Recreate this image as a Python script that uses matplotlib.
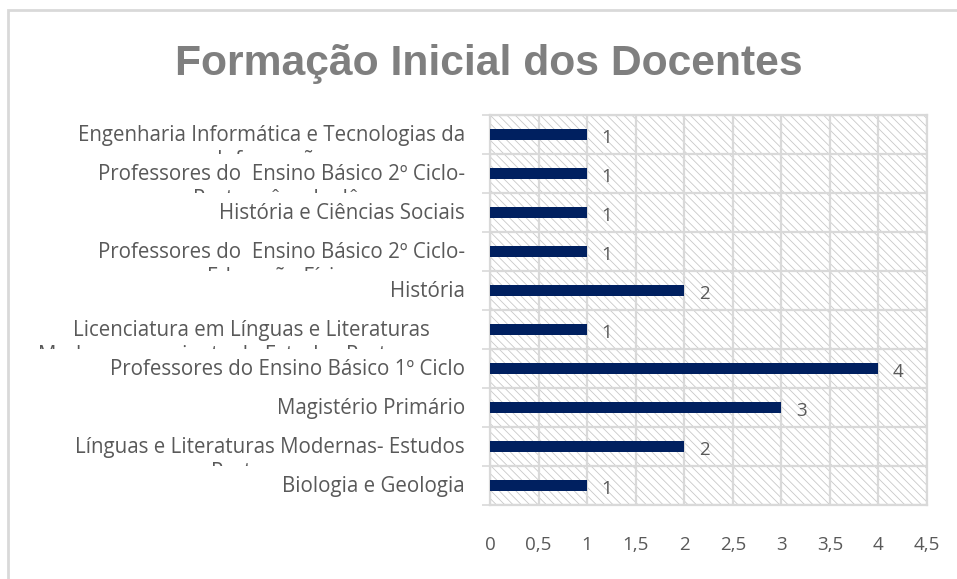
import matplotlib
matplotlib.use("Agg")
from matplotlib import pyplot as plt
import matplotlib.patches as mpatches
from matplotlib.transforms import Bbox, TransformedBbox, blended_transform_factory
from matplotlib.ticker import FixedLocator, FuncFormatter

# categories, top to bottom (second line of each label is cut off in the chart)
cursos = [
    "Engenharia Informática e Tecnologias da\nInformação",
    "Professores do  Ensino Básico 2º Ciclo-\nPortuguês e Inglês",
    "História e Ciências Sociais",
    "Professores do  Ensino Básico 2º Ciclo-\nEducação Física",
    "História",
    "Licenciatura em Línguas e Literaturas\nModernas - variante de Estudos Portugueses",
    "Professores do Ensino Básico 1º Ciclo",
    "Magistério Primário",
    "Línguas e Literaturas Modernas- Estudos\nPortugueses",
    "Biologia e Geologia",
]
docentes = [1, 1, 1, 1, 2, 1, 4, 3, 2, 1]
x_ticks = [0, 0.5, 1, 1.5, 2, 2.5, 3, 3.5, 4, 4.5]

plt.rcParams['font.family'] = ['Open Sans', 'DejaVu Sans']
plt.rcParams['hatch.linewidth'] = 0.6

text_grey = '#595959'
grid_grey = '#d9d9d9'
navy = '#002060'

fig = plt.figure(figsize=(9.57, 5.79), dpi=100)
ax = fig.add_axes([490 / 957, 1 - 505 / 579, 437 / 957, 390 / 579])

pos = list(range(len(cursos)))
ax.barh(pos, docentes, height=0.3, color=navy, zorder=3)
ax.set_xlim(0, 4.5)
ax.set_ylim(len(cursos) - 0.5, -0.5)

# hatched plot area
bg = mpatches.Rectangle((0, 0), 1, 1, transform=ax.transAxes, facecolor='white',
                        edgecolor='#c8c8c8', hatch='\\' * 4, linewidth=0, zorder=0.1)
ax.add_patch(bg)

ax.set_axisbelow(True)
ax.xaxis.set_major_locator(FixedLocator(x_ticks))
ax.xaxis.set_major_formatter(FuncFormatter(lambda v, p: ('%g' % v).replace('.', ',')))
ax.tick_params(axis='x', length=0, pad=22, labelsize=13.5, labelcolor=text_grey)
ax.grid(axis='x', which='major', color=grid_grey, linewidth=1.6)

ax.set_yticks(pos)
ax.set_yticklabels([])
ax.yaxis.set_minor_locator(FixedLocator([p + 0.5 for p in range(-1, len(cursos))]))
ax.tick_params(axis='y', which='major', length=0)
ax.tick_params(axis='y', which='minor', length=6, color=grid_grey, width=1.2)
ax.grid(axis='y', which='minor', color=grid_grey, linewidth=1.6)
for s in ax.spines.values():
    s.set_color(grid_grey)
    s.set_linewidth(1.6)

# category labels, clipped to their own band
trans = blended_transform_factory(ax.transAxes, ax.transData)
clip_tr = blended_transform_factory(fig.transFigure, ax.transData)
for i, lab in enumerate(cursos):
    t = ax.annotate(lab, xy=(0, i), xycoords=trans, xytext=(-18, 6.5),
                    textcoords='offset points', ha='right', va='top',
                    multialignment='center', fontsize=14.8, color=text_grey,
                    linespacing=1.2, annotation_clip=False)
    t.set_clip_box(TransformedBbox(Bbox([[0, i - 0.5], [0.5, i + 0.5]]), clip_tr))
    t.set_clip_on(True)

# value labels
for i, v in enumerate(docentes):
    ax.annotate(str(v), xy=(v, i), xytext=(10.5, -6), textcoords='offset points',
                ha='left', va='baseline', fontsize=13.5, color=text_grey)

fig.text(0.511, 1 - 75 / 579, "Formação Inicial dos Docentes", ha='center',
         va='baseline', fontsize=30.7, fontweight='bold', color='#7f7f7f',
         family='Liberation Sans')

# chart border
fig.patches.append(mpatches.Rectangle((8 / 957, -0.01), 1.0, 1 - 10 / 579 + 0.01,
                                      transform=fig.transFigure, fill=False,
                                      edgecolor=grid_grey, linewidth=2))

fig.savefig('out.png', dpi=100)
